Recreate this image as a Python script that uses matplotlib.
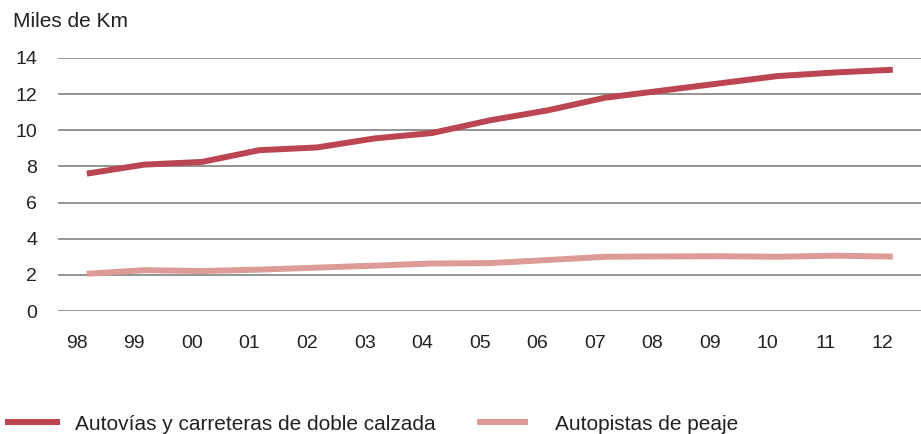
import matplotlib
matplotlib.use('Agg')
import matplotlib.pyplot as plt
import matplotlib.transforms as mtransforms
from matplotlib.lines import Line2D

plt.rcParams['font.family'] = ['Liberation Sans', 'DejaVu Sans']

years = ['98', '99', '00', '01', '02', '03', '04', '05', '06', '07', '08', '09', '10', '11', '12']
autovias = [7.6, 8.1, 8.25, 8.9, 9.05, 9.55, 9.85, 10.55, 11.1, 11.8, 12.2, 12.6, 13.0, 13.2, 13.35]
autopistas = [2.06, 2.26, 2.21, 2.29, 2.4, 2.51, 2.63, 2.65, 2.82, 3.0, 3.02, 3.03, 3.0, 3.06, 3.01]

dark = '#bb4550'
light = '#dc9b95'
text_col = '#222222'
fs = 14

fig = plt.figure(figsize=(9.21, 4.34), dpi=100)
ax = fig.add_axes([58 / 921, 1 - 311 / 434, 1 - 58 / 921, (311 - 58) / 434])

x = list(range(len(years)))
ax.plot(x, autovias, color=dark, lw=4.3, solid_capstyle='butt')
ax.plot(x, autopistas, color=light, lw=4.3, solid_capstyle='butt')

ax.set_ylim(0, 14)
ax.set_xlim(-0.5, 14.49)
ax.set_yticks(range(0, 15, 2))
ax.set_xticks(x)
ax.set_xticklabels(years)
ax.grid(axis='y', color='#777777', lw=1.1)
ax.set_axisbelow(True)
for s in ax.spines.values():
    s.set_visible(False)
ax.tick_params(length=0, labelsize=fs, colors=text_col)
ax.tick_params(axis='y', pad=15)
ax.tick_params(axis='x', pad=17)

# x labels sit a bit left of the data points
shift = mtransforms.ScaledTranslation(-10 / 100, 0, fig.dpi_scale_trans)
for lab in ax.get_xticklabels():
    lab.set_transform(lab.get_transform() + shift)

fig.text(13 / 921, 1 - 27 / 434, 'Miles de Km', fontsize=fs + 1, color=text_col)

h1 = Line2D([], [], color=dark, lw=4.3, solid_capstyle='butt')
h2 = Line2D([], [], color=light, lw=4.3, solid_capstyle='butt')
leg1 = fig.legend([h1], ['Autovías y carreteras de doble calzada'], loc='center left',
                  bbox_to_anchor=(0 / 921, 1 - 424 / 434), frameon=False, fontsize=fs + 1,
                  handlelength=2.65, handletextpad=0.7, borderaxespad=0, borderpad=0.25)
leg2 = fig.legend([h2], ['Autopistas de peaje'], loc='center left',
                  bbox_to_anchor=(472 / 921, 1 - 424 / 434), frameon=False, fontsize=fs + 1,
                  handlelength=2.45, handletextpad=1.3, borderaxespad=0, borderpad=0.25)
for leg in (leg1, leg2):
    for t in leg.get_texts():
        t.set_color(text_col)

fig.savefig('out.png', dpi=100)
